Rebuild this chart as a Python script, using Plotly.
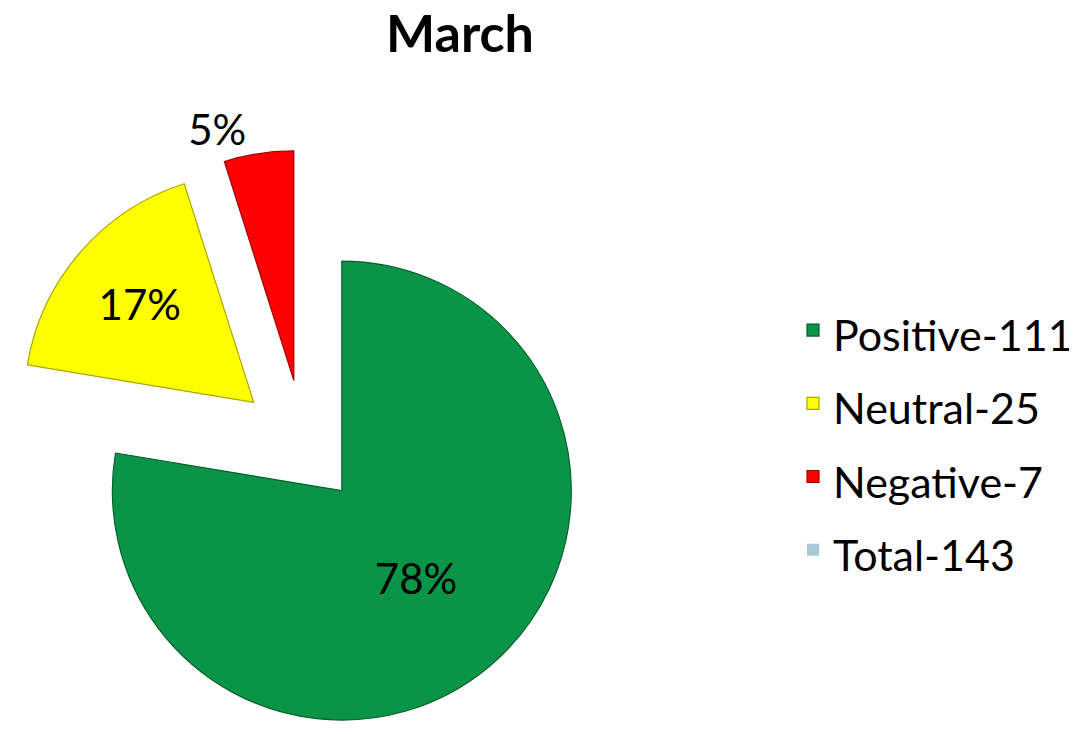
import plotly.graph_objects as go

categories = ["Positive-111", "Neutral-25", "Negative-7", "Total-143"]
values = [111, 25, 7, 0]
colors = ["#0A9447", "#FFFF00", "#FF0000", "#A8C8D4"]
edge_colors = ["#06602D", "#A8A800", "#A80000", "#6F8E9A"]
edge_widths = [1.2, 1.2, 1.2, 0]
pulls = [0.255, 0.29, 0.29, 0]
text_positions = ["inside", "inside", "outside", "none"]
title_text = "March"

FONT = "Lato"
W, H = 1077, 734

# pie box in pixels -> domain fractions
box_w, box_h = 592, 592
dom_x = [0.0, box_w / W]
dom_y = [0.0, box_h / H]

labels = [f"<span style='font-size:43px'>{c}</span>" for c in categories]

fig = go.Figure(
    go.Pie(
        labels=labels,
        values=values,
        sort=False,
        direction="clockwise",
        rotation=0,
        pull=pulls,
        marker=dict(colors=colors, line=dict(color=edge_colors, width=edge_widths)),
        texttemplate="%{percent:.0%}",
        textposition=text_positions,
        insidetextorientation="horizontal",
        insidetextfont=dict(family=FONT, size=42, color="black"),
        outsidetextfont=dict(family=FONT, size=42, color="black"),
        domain=dict(x=dom_x, y=dom_y),
        hoverinfo="label+value+percent",
    )
)

fig.update_layout(
    width=W,
    height=H,
    margin=dict(l=0, r=0, t=0, b=0, autoexpand=False),
    paper_bgcolor="white",
    plot_bgcolor="white",
    title=dict(
        text=f"<b>{title_text}</b>",
        x=452 / W,
        xanchor="center",
        xref="container",
        y=1 - 26 / H,
        yanchor="middle",
        yref="container",
        font=dict(family=FONT, size=52, color="black"),
    ),
    legend=dict(
        x=785 / W,
        xanchor="left",
        y=1 - 432 / H,
        yanchor="middle",
        font=dict(family=FONT, size=54, color="black"),
        bgcolor="rgba(0,0,0,0)",
    ),
    showlegend=True,
)

fig.write_html("out.html")
